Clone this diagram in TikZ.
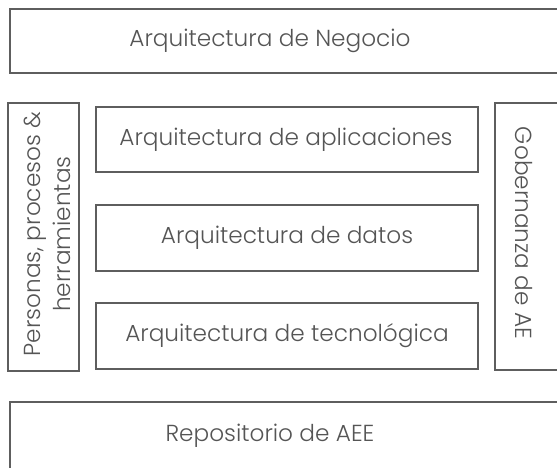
\documentclass[tikz,border=0pt]{standalone}
\usepackage{fontspec}
\setmainfont{Poppins}[UprightFont=* Light]
\definecolor{boxgray}{HTML}{5E5E5E}
\definecolor{textgray}{HTML}{555555}

\begin{document}
\begin{tikzpicture}[
	x=1pt, y=-1pt,
	layer/.style={draw=boxgray, line width=2.8pt},
	label/.style={text=textgray, font=\fontsize{23.2}{30}\selectfont, inner sep=0pt},
	side/.style={label, align=center}]
\useasboundingbox (0,0) rectangle (557,467);
\begin{scope}
\clip (0,0) rectangle (557,467);
\draw[layer] (10,9) rectangle (620,73);
\draw[layer] (8,103) rectangle (79,371);
\draw[layer] (96,107) rectangle (478,172);
\draw[layer] (96,205) rectangle (478,271);
\draw[layer] (96,303) rectangle (478,369);
\draw[layer] (495,103) rectangle (620,370);
\draw[layer] (10,402) rectangle (620,500);
\end{scope}
\node[label] (negocio) at (270,41) {Arquitectura de Negocio};
\node[side, rotate=90] (personas) at (47,234) {Personas, procesos \&\\herramientas};
\node[label] (aplicaciones) at (286,140) {Arquitectura de aplicaciones};
\node[label] (datos) at (287,238) {Arquitectura de datos};
\node[label] (tecnologica) at (287,336) {Arquitectura de tecnológica};
\node[label, rotate=-90] (gobernanza) at (524,233) {Gobernanza de AE};
\node[label] (repositorio) at (270,436) {Repositorio de AEE};
\end{tikzpicture}
\end{document}
